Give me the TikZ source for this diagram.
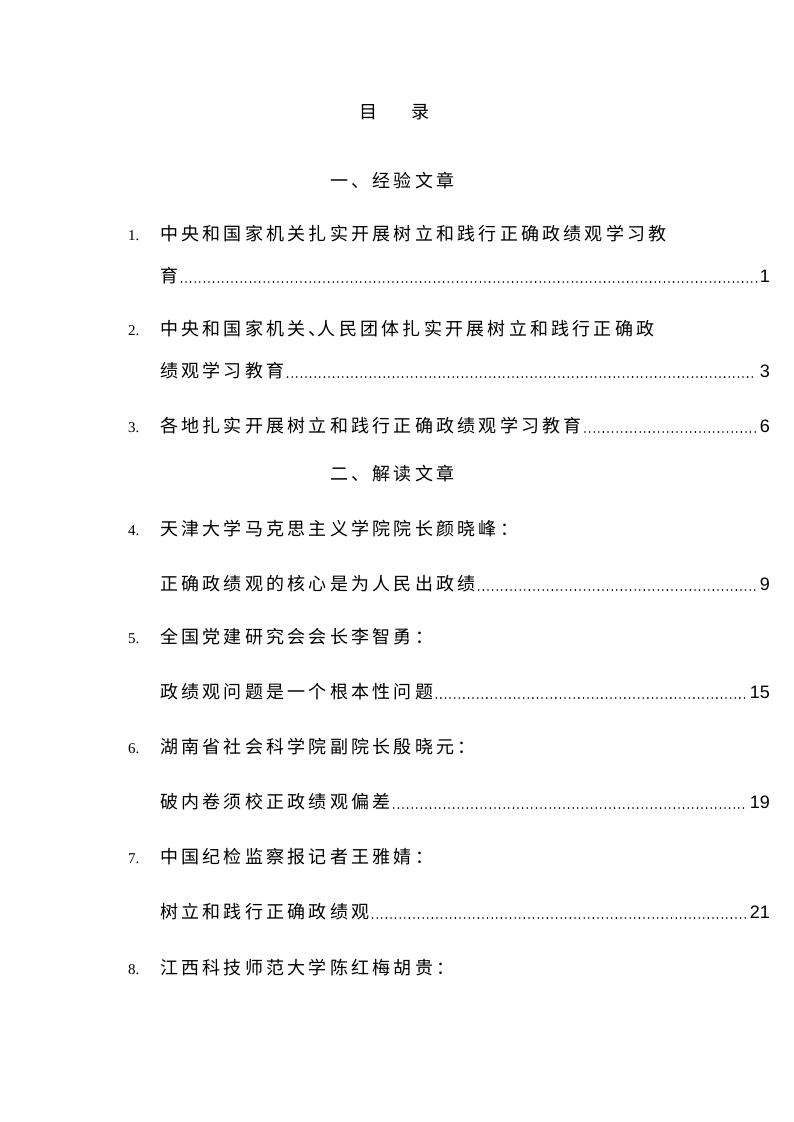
\documentclass[tikz,border=0pt]{standalone}
\usepackage{fontspec}
\setmainfont{Liberation Serif}
\newfontfamily\cjk[LetterSpace=18]{Noto Sans CJK SC}
\newfontfamily\pgfont{Liberation Sans}
\tikzset{
  cn/.style={anchor=base west, inner sep=0pt, font=\cjk\fontsize{18}{18}\selectfont},
  hd/.style={anchor=base, inner sep=0pt, font=\cjk\fontsize{18}{18}\selectfont},
  num/.style={anchor=base west, inner sep=0pt, font=\fontsize{15}{15}\selectfont},
  pg/.style={anchor=base east, inner sep=0pt, font=\pgfont\fontsize{18}{18}\selectfont},
  leader/.style={line width=1.8pt, line cap=round, dash pattern=on 0pt off 4.6pt, shorten <=3pt, shorten >=3pt, yshift=1.8pt}
}
\begin{document}
\begin{tikzpicture}[x=1pt,y=-1pt]
\useasboundingbox (0,0) rectangle (793,1122);
% title
\node[hd] (ti1) at (368,118) {目};
\node[hd] (ti2) at (420,118) {录};
% heading 1
\node[cn] (h1) at (330,187) {一、经验文章};
% item 1
\node[num] (n1) at (128,240) {1.};
\node[cn] (t1a) at (160,240) {中央和国家机关扎实开展树立和践行正确政绩观学习教};
\node[cn] (t1b) at (160,282) {育};
\node[pg] (p1) at (770,282) {1};
\draw[leader] (t1b.base east) -- (p1.base west);
% item 2
\node[num] (n2) at (128,335) {2.};
\node[cn] (t2a) at (160,335) {中央和国家机关、\kern-9pt 人民团体扎实开展树立和践行正确政};
\node[cn] (t2b) at (160,377) {绩观学习教育};
\node[pg] (p2) at (770,377) {3};
\draw[leader] (t2b.base east) -- (p2.base west);
% item 3
\node[num] (n3) at (128,432) {3.};
\node[cn] (t3a) at (160,432) {各地扎实开展树立和践行正确政绩观学习教育};
\node[pg] (p3) at (770,432) {6};
\draw[leader] (t3a.base east) -- (p3.base west);
% heading 2
\node[cn] (h2) at (330,480) {二、解读文章};
% item 4
\node[num] (n4) at (128,535) {4.};
\node[cn] (t4a) at (160,535) {天津大学马克思主义学院院长颜晓峰：};
\node[cn] (t4b) at (160,590) {正确政绩观的核心是为人民出政绩};
\node[pg] (p4) at (770,590) {9};
\draw[leader] (t4b.base east) -- (p4.base west);
% item 5
\node[num] (n5) at (128,643) {5.};
\node[cn] (t5a) at (160,643) {全国党建研究会会长李智勇：};
\node[cn] (t5b) at (160,698) {政绩观问题是一个根本性问题};
\node[pg] (p5) at (770,698) {15};
\draw[leader] (t5b.base east) -- (p5.base west);
% item 6
\node[num] (n6) at (128,753) {6.};
\node[cn] (t6a) at (160,753) {湖南省社会科学院副院长殷晓元：};
\node[cn] (t6b) at (160,808) {破内卷须校正政绩观偏差};
\node[pg] (p6) at (770,808) {19};
\draw[leader] (t6b.base east) -- (p6.base west);
% item 7
\node[num] (n7) at (128,863) {7.};
\node[cn] (t7a) at (160,863) {中国纪检监察报记者王雅婧：};
\node[cn] (t7b) at (160,918) {树立和践行正确政绩观};
\node[pg] (p7) at (770,918) {21};
\draw[leader] (t7b.base east) -- (p7.base west);
% item 8
\node[num] (n8) at (128,974) {8.};
\node[cn] (t8a) at (160,974) {江西科技师范大学陈红梅胡贵：};
\end{tikzpicture}
\end{document}
